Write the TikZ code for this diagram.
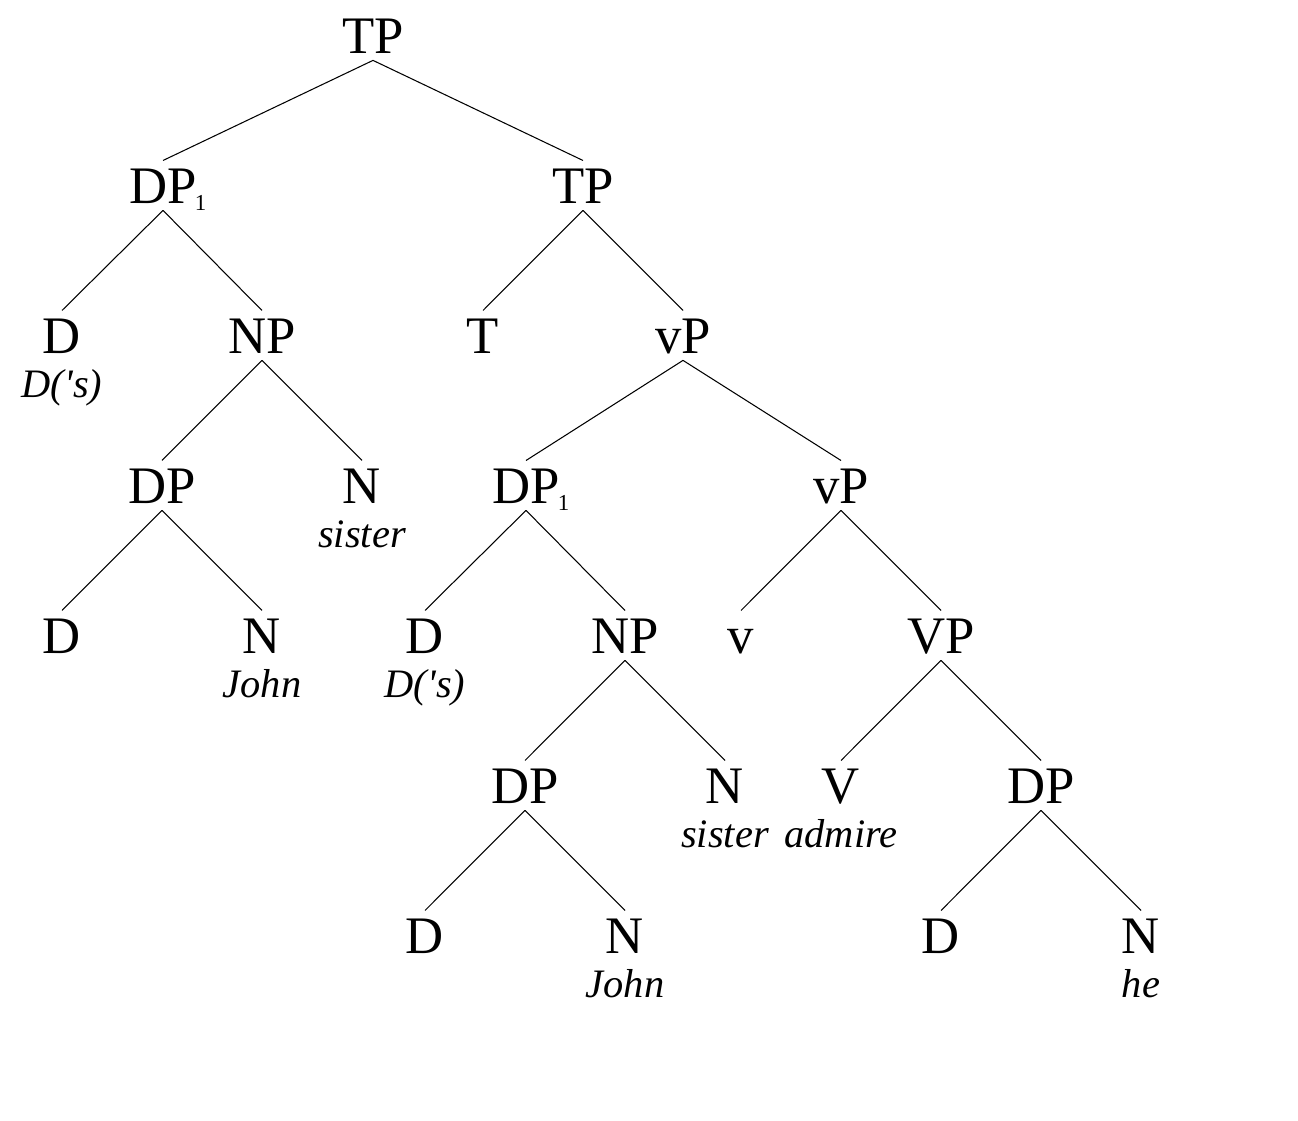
\documentclass[tikz,border=0pt]{standalone}
\usepackage{fontspec}
\setmainfont{Liberation Serif}
\usetikzlibrary{positioning}
\tikzset{
  cat/.style={font=\fontsize{30}{36}\selectfont, anchor=base, inner xsep=0pt, inner ysep=4pt, text height=20pt, text depth=0pt},
  lex/.style={font=\fontsize{23}{27}\selectfont\itshape, anchor=base, inner sep=0pt},
  branch/.style={line width=0.6pt}
}
\newcommand{\idx}[1]{\rlap{\hspace{-1pt}\raisebox{-4pt}{\fontsize{13}{13}\selectfont #1}}}

\begin{document}
\begin{tikzpicture}[x=0.02cm,y=-0.02cm]
	\useasboundingbox (0,0) rectangle (1298,1120);
	%%%%% categories %%%%%
	\node[cat] (tp)  at (373,53)  {TP};
	\node[cat] (dpa) at (163,203) {DP\idx{1}};
	\node[cat] (tpb) at (583,203) {TP};
	
	\node[cat] (da)  at (62,353)  {D};
	\node[cat] (npa) at (262,353) {NP};
	\node[cat] (t)   at (483,353) {T};
	\node[cat] (vpa) at (683,353) {vP};
	
	\node[cat] (dpb) at (162,503) {DP};
	\node[cat] (na)  at (362,503) {N};
	\node[cat] (dpc) at (526,503) {DP\idx{1}};
	\node[cat] (vpb) at (841,503) {vP};
	
	\node[cat] (db)  at (62,653)  {D};
	\node[cat] (nb)  at (262,653) {N};
	\node[cat] (dc)  at (425,653) {D};
	\node[cat] (npb) at (625,653) {NP};
	\node[cat] (lv)  at (741,653) {v};
	\node[cat] (vpc) at (941,653) {VP};
	
	\node[cat] (dpd) at (525,803)  {DP};
	\node[cat] (nc)  at (725,803)  {N};
	\node[cat] (uv)  at (841,803)  {V};
	\node[cat] (dpe) at (1041,803) {DP};
	
	\node[cat] (dd)  at (425,953)  {D};
	\node[cat] (nd)  at (625,953)  {N};
	\node[cat] (de)  at (941,953)  {D};
	\node[cat] (ne)  at (1141,953) {N};
	
	%%%%% words %%%%%
	\node[lex] (wa) at (62,397)   {D(\textquotesingle s)};
	\node[lex] (wb) at (362,547)  {sister};
	\node[lex] (wc) at (262,697)  {John};
	\node[lex] (wd) at (425,697)  {D(\textquotesingle s)};
	\node[lex] (we) at (725,847)  {sister};
	\node[lex] (wf) at (841,847)  {admire};
	\node[lex] (wg) at (625,997)  {John};
	\node[lex] (wh) at (1141,997) {he};
	
	%%%%% branches %%%%%
	\foreach \a/\b in {tp/dpa, tp/tpb, dpa/da, dpa/npa, tpb/t, tpb/vpa,
		npa/dpb, npa/na, vpa/dpc, vpa/vpb, dpb/db, dpb/nb,
		dpc/dc, dpc/npb, vpb/lv, vpb/vpc, npb/dpd, npb/nc,
		vpc/uv, vpc/dpe, dpd/dd, dpd/nd, dpe/de, dpe/ne}
		\draw[branch] (\a.south) -- (\b.north);
\end{tikzpicture}
\end{document}
